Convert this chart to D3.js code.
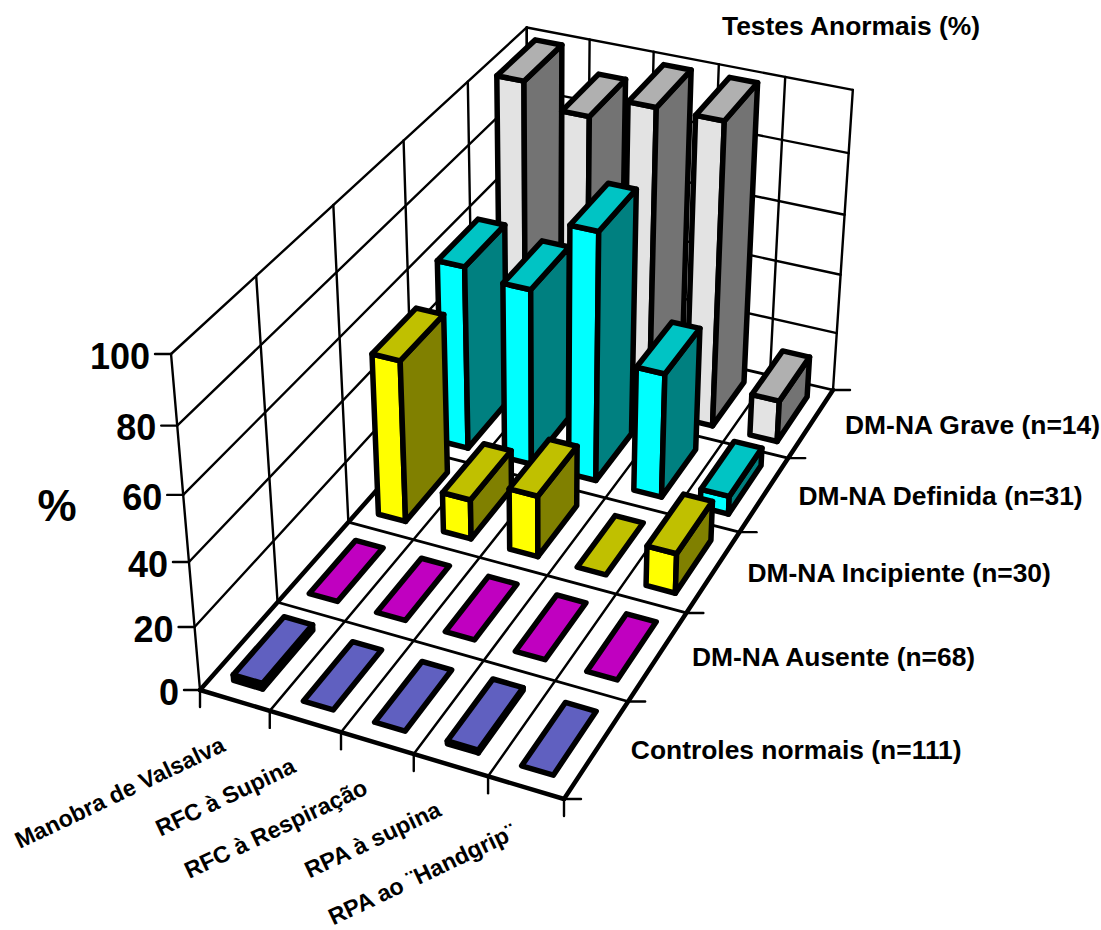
<!DOCTYPE html>
<meta charset="utf-8">
<style>
  body { margin: 0; background: #fff; }
  text { font-family: "Liberation Sans", Arial, sans-serif; font-weight: bold; fill: #000; }
</style>
<script src="https://d3js.org/d3.v7.min.js"></script>
<div id="chart"></div>
<script>

var tests = ["Manobra de Valsalva", "RFC à Supina", "RFC à Respiração", "RPA à supina", "RPA ao ¨Handgrip¨"];
var groups = ["Controles normais (n=111)", "DM-NA Ausente (n=68)", "DM-NA Incipiente (n=30)", "DM-NA Definida (n=31)", "DM-NA Grave (n=14)"];

// one list per group, same order as tests
var controles = [1.8, 0, 0, 0.9, 0];
var ausente = [0, 0, 0, 0, 0];
var incipiente = [52.5, 13, 20, 0, 13];
var definida = [60.5, 58, 81, 41, 6];
var grave = [100, 93, 100, 100, 14];
var rows = [controles, ausente, incipiente, definida, grave];

var yTicks = [0, 20, 40, 60, 80, 100];

// front, side, top
var faceColors = [
  ["#6060c0", "#303080", "#6060c0"],
  ["#ff00ff", "#800080", "#c000c0"],
  ["#ffff00", "#808000", "#c0c000"],
  ["#00ffff", "#008080", "#00c4c4"],
  ["#e3e3e3", "#737373", "#b0b0b0"]
];

var svg = d3.select("#chart").append("svg")
  .attr("width", 1101)
  .attr("height", 930);

// camera: floor corners on the page and where the verticals meet
var floor = [[200, 690], [564, 799], [833, 390], [528, 319]];
var vanish = [547, 4716];
var wallTop = 354; // page y of 100% above the first floor corner

function quadMatrix(q) {
  var dx1 = q[1][0] - q[2][0], dx2 = q[3][0] - q[2][0], sx = q[0][0] - q[1][0] + q[2][0] - q[3][0];
  var dy1 = q[1][1] - q[2][1], dy2 = q[3][1] - q[2][1], sy = q[0][1] - q[1][1] + q[2][1] - q[3][1];
  var den = dx1 * dy2 - dx2 * dy1;
  var g = (sx * dy2 - dx2 * sy) / den, h = (dx1 * sy - sx * dy1) / den;
  return {
    a: q[1][0] - q[0][0] + g * q[1][0], b: q[3][0] - q[0][0] + h * q[3][0], c: q[0][0],
    d: q[1][1] - q[0][1] + g * q[1][1], e: q[3][1] - q[0][1] + h * q[3][1], f: q[0][1],
    g: g, h: h
  };
}
var m = quadMatrix(floor);
var lift = (wallTop - floor[0][1]) / (vanish[1] - wallTop);

// u along the tests, v along the groups, t = height 0..1
function project(u, v, t) {
  var w = m.g * u + m.h * v + 1 + lift * t;
  return [(m.a * u + m.b * v + m.c + lift * t * vanish[0]) / w,
          (m.d * u + m.e * v + m.f + lift * t * vanish[1]) / w];
}

var xBand = d3.scaleBand().domain(tests).range([0, 1]).paddingInner(0.58).paddingOuter(0.29);
var zBand = d3.scaleBand().domain(groups).range([0, 1]).paddingInner(0.34).paddingOuter(0.17);
var yScale = d3.scaleLinear().domain([0, 100]).range([0, 1]);

function seg(a, b, width) {
  svg.append("line")
    .attr("x1", a[0]).attr("y1", a[1])
    .attr("x2", b[0]).attr("y2", b[1])
    .attr("stroke", "#000")
    .attr("stroke-width", width)
    .attr("stroke-linecap", "round");
}

// walls
yTicks.forEach(function(t) {
  var h = yScale(t);
  if (t > 0) {
    seg(project(0, 0, h), project(0, 1, h), 2.4);
    seg(project(0, 1, h), project(1, 1, h), 2.4);
  }
  // y tick and label
  var p = project(0, 0, h);
  seg([p[0] - 16, p[1]], p, 2.4);
  svg.append("text")
    .attr("x", p[0] - 21)
    .attr("y", p[1] + 2)
    .attr("dy", ".35em")
    .attr("text-anchor", "end")
    .attr("font-size", 36)
    .text(t);
});
d3.range(0, 6).forEach(function(i) {
  var s = i * xBand.step();
  seg(project(0, s, 0), project(0, s, 1), 2.4);
  seg(project(s, 1, 0), project(s, 1, 1), 2.4);
});

// floor grid
d3.range(1, 5).forEach(function(i) {
  var s = i * xBand.step();
  seg(project(s, 0, 0), project(s, 1, 0), 2.4);
  seg(project(0, s, 0), project(1, s, 0), 2.8);
});
seg(project(0, 1, 0), project(1, 1, 0), 2.8);
seg(project(0, 0, 0), project(1, 0, 0), 4.5);
seg(project(0, 0, 0), project(0, 1, 0), 4.5);
seg(project(1, 0, 0), project(1, 1, 0), 4.5);

// x ticks and labels
d3.range(0, 6).forEach(function(i) {
  var p = project(i * xBand.step(), 0, 0);
  seg(p, [p[0], p[1] + 17], 2.4);
});
tests.forEach(function(name, i) {
  var p = project(xBand(name) + xBand.bandwidth() / 2, 0, 0);
  svg.append("text")
    .attr("transform", "translate(" + (p[0] - 8) + "," + (p[1] + 50) + ") rotate(-25.5)")
    .attr("text-anchor", "end")
    .attr("font-size", 23.3)
    .text(name);
});

// group ticks and labels
d3.range(0, 6).forEach(function(i) {
  var p = project(1, i * zBand.step(), 0);
  seg(p, [p[0] + 17, p[1]], 2.4);
});
groups.forEach(function(name) {
  var p = project(1, zBand(name) + zBand.bandwidth() / 2, 0);
  svg.append("text")
    .attr("x", p[0] + 34)
    .attr("y", p[1] + 1)
    .attr("dy", ".35em")
    .attr("font-size", 26.4)
    .text(name);
});

// bars, back row first, left to right
function face(corners, color) {
  svg.append("path")
    .attr("d", d3.line()(corners) + "Z")
    .attr("fill", color)
    .attr("stroke", "#000")
    .attr("stroke-width", 5.5)
    .attr("stroke-linejoin", "round");
}
groups.slice().reverse().forEach(function(group) {
  var r = groups.indexOf(group);
  tests.forEach(function(test, c) {
    var x0 = xBand(test), x1 = x0 + xBand.bandwidth();
    var z0 = zBand(group), z1 = z0 + zBand.bandwidth();
    var h = yScale(rows[r][c]);
    var colors = faceColors[r];
    if (h > 0) {
      face([project(x0, z0, 0), project(x1, z0, 0), project(x1, z0, h), project(x0, z0, h)], colors[0]);
      face([project(x1, z0, 0), project(x1, z1, 0), project(x1, z1, h), project(x1, z0, h)], colors[1]);
    }
    face([project(x0, z0, h), project(x1, z0, h), project(x1, z1, h), project(x0, z1, h)], colors[2]);
  });
});

svg.append("text")
  .attr("x", 57)
  .attr("y", 506)
  .attr("dy", ".35em")
  .attr("text-anchor", "middle")
  .attr("font-size", 44)
  .text("%");

svg.append("text")
  .attr("x", 722)
  .attr("y", 26)
  .attr("dy", ".35em")
  .attr("font-size", 26.4)
  .text("Testes Anormais (%)");

</script>
